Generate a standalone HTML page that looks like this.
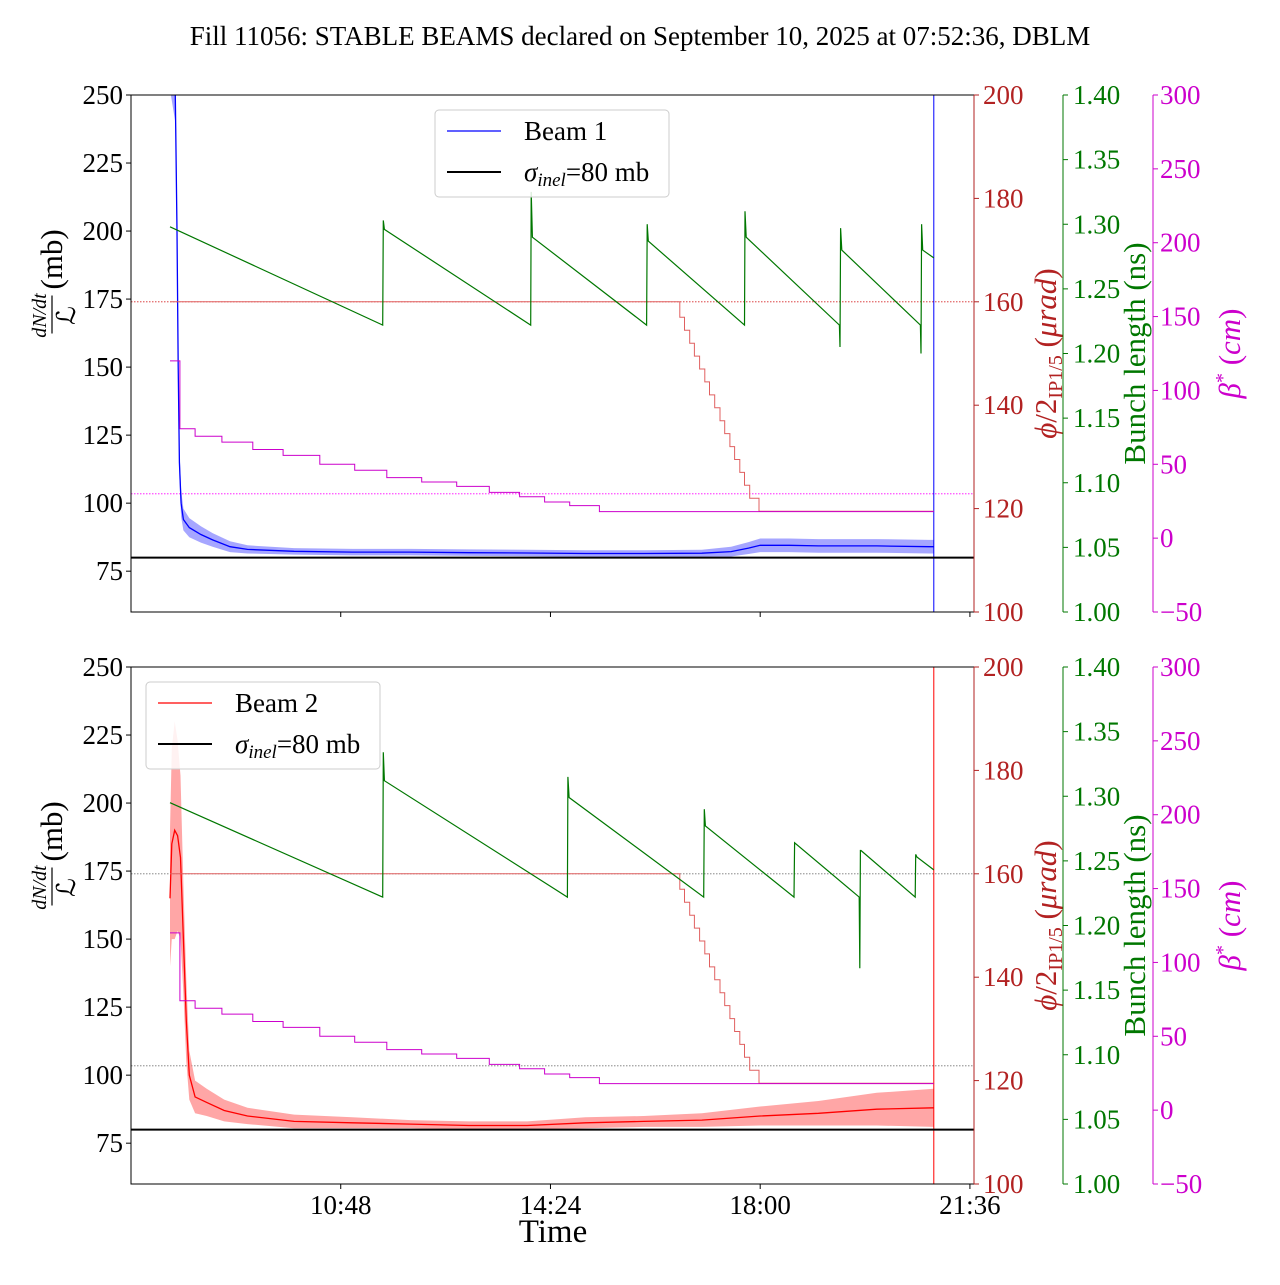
<!DOCTYPE html>
<html><head><meta charset="utf-8"><style>
body{margin:0;background:#fff}
svg{font-family:"Liberation Serif",serif}
</style></head><body>
<svg id="c" width="1280" height="1280" xmlns="http://www.w3.org/2000/svg">
<text x="640" y="45" text-anchor="middle" font-size="27">Fill 11056: STABLE BEAMS declared on September 10, 2025 at 07:52:36, DBLM</text>
</svg>
<script>
// ---- data (time in decimal hours) ----
const xTicks=[10.8,14.4,18.0,21.6];
const xTickLabels=["10:48","14:24","18:00","21:36"];
const leftTicks=[75,100,125,150,175,200,225,250];
const redTicks=[100,120,140,160,180,200];
const greenTicks=[1.00,1.05,1.10,1.15,1.20,1.25,1.30,1.35,1.40];
const magTicks=[-50,0,50,100,150,200,250,300];

const b1Time=[7.87,7.96,7.99,8.01,8.03,8.06,8.10,8.20,8.40,8.60,8.90,9.20,10,11,12,13,14,15,16,17,17.5,17.8,18.0,18.5,19,20,20.9,20.98];
const b1Val=[262,250,200,150,115,100,94,91,88.5,86.5,84,83,82.3,82,82,81.8,81.7,81.5,81.5,81.6,82.2,83.5,84.5,84.5,84.3,84.3,84,84];
const b1Band=[10,10,10,8,6,5,4,3.5,3,2.5,2,1.5,1.2,1.2,1.2,1.2,1.2,1.2,1.2,1.3,1.8,2.2,2.5,2.5,2.5,2.5,2.5,2.5];

const b2Time=[7.87,7.90,7.95,8.00,8.05,8.10,8.15,8.20,8.30,8.50,8.80,9.20,10,11,12,13,14,15,16,17,18,19,20,20.98];
const b2Val=[165,185,190,188,180,150,120,100,92,90,87,85,83,82.5,82,81.5,81.5,82.5,83,83.5,85,86,87.5,88];
const b2Band=[25,35,40,35,30,20,15,9,6,5,4,3,2.5,2,1.5,1.5,1.5,2,2,2.5,3.5,4.5,6,7];

const bl1Time=[7.87,11.52,11.53,11.55,14.06,14.07,14.09,16.05,16.06,16.08,17.73,17.74,17.76,19.36,19.37,19.38,19.40,20.75,20.76,20.77,20.79,20.98];
const bl1Val=[1.298,1.222,1.303,1.296,1.222,1.325,1.29,1.222,1.30,1.287,1.222,1.31,1.29,1.222,1.205,1.297,1.28,1.222,1.20,1.30,1.28,1.274];
const bl2Time=[7.87,11.52,11.53,11.55,14.69,14.70,14.72,17.03,17.04,17.06,18.58,18.59,19.70,19.71,19.72,19.73,20.66,20.67,20.69,20.98];
const bl2Val=[1.295,1.222,1.334,1.312,1.222,1.315,1.299,1.222,1.29,1.277,1.222,1.264,1.222,1.167,1.258,1.258,1.222,1.255,1.253,1.243];

const xingTime=[7.87,16.53,16.62,16.70,16.79,16.87,16.96,17.05,17.13,17.22,17.31,17.39,17.48,17.56,17.65,17.73,17.82,17.98,20.98];
const xingVal=[160,160,157,154.5,152,149.5,147,144.5,142,139.5,137,134.5,132,129.5,127,124.5,122,119.5,119.5];

const betaTime=[7.87,8.04,8.30,8.76,9.29,9.81,10.44,11.04,11.59,12.19,12.79,13.35,13.87,14.30,14.73,15.24,20.98];
const betaVal=[120,74,69,65,60,56,50,46,41,38,35,31,28,24.5,22,18,18];

const xStart=7.2,xEnd=21.67;
const sigmaInel=80, xingRef=160, betaRef=30;

const NS="http://www.w3.org/2000/svg";
const svg=document.getElementById('c');
const X0=131,X1=974,H=517;
const xs=t=>X0+(t-xStart)/(xEnd-xStart)*(X1-X0);
function mk(tag,at,parent){const e=document.createElementNS(NS,tag);for(const k in at)e.setAttribute(k,at[k]);(parent||svg).appendChild(e);return e;}
function txt(x,y,s,size,anchor,fill,parent){const e=mk('text',{x:x,y:y,'font-size':size,'text-anchor':anchor||'start',fill:fill||'#000'},parent);e.textContent=s;return e;}
function pathOf(ts,vs,fy,step){let d='';for(let i=0;i<ts.length;i++){const X=xs(ts[i]).toFixed(1),Y=fy(vs[i]).toFixed(1);if(i==0)d+='M'+X+','+Y;else if(step){d+='H'+X+'V'+Y;}else d+='L'+X+','+Y;}return d;}

function panel(top,beam){
  const g=mk('g',{});
  
  
  const yL=v=>top+(250-v)/190*H, yR=v=>top+(200-v)/100*H, yG=v=>top+(1.4-v)/0.4*H, yM=v=>top+(300-v)/350*H;
  const clip='clip'+beam;
  const cp=mk('clipPath',{id:clip},g);mk('rect',{x:X0,y:top,width:X1-X0,height:H},cp);
  const pg=mk('g',{'clip-path':'url(#'+clip+')'},g);
  const col=beam==1?'#0000ff':'#ff0000', band=beam==1?'#8080ff':'#ff8080';
  const T=beam==1?b1Time:b2Time,V=beam==1?b1Val:b2Val,B=beam==1?b1Band:b2Band;
  const r1=mk('line',{x1:X0,x2:X1,y1:yR(xingRef),y2:yR(xingRef),stroke:beam==1?'#d62728':'#777','stroke-width':0.8,'stroke-dasharray':'1.5,1.5'},pg);
  
  
  const r2=mk('line',{x1:X0,x2:X1,y1:yM(betaRef),y2:yM(betaRef),stroke:beam==1?'#ff00ff':'#777','stroke-width':0.8,'stroke-dasharray':'1.5,1.5'},pg);
  
  
  let d='';for(let i=0;i<T.length;i++)d+=(i?'L':'M')+xs(T[i]).toFixed(1)+','+yL(V[i]+B[i]).toFixed(1);
  for(let i=T.length-1;i>=0;i--)d+='L'+xs(T[i]).toFixed(1)+','+yL(V[i]-B[i]).toFixed(1);
  const bd=mk('path',{d:d+'Z',fill:band,opacity:0.7},pg);
  
  
  const ln=mk('path',{d:pathOf(T,V,yL),fill:'none',stroke:col,'stroke-width':1.3},pg);
  
  
  const vl=mk('line',{x1:xs(T[T.length-1]),x2:xs(T[T.length-1]),y1:top,y2:top+H,stroke:col,'stroke-width':1},pg);
  
  
  const xl=mk('path',{d:pathOf(xingTime,xingVal,yR,true),fill:'none',stroke:'#e06060','stroke-width':1},pg);
  
  
  const ml=mk('path',{d:pathOf(betaTime,betaVal,yM,true),fill:'none',stroke:'#cc00cc','stroke-width':1},pg);
  
  
  const gl=mk('path',{d:pathOf(beam==1?bl1Time:bl2Time,beam==1?bl1Val:bl2Val,yG),fill:'none',stroke:'#007700','stroke-width':1.2},pg);
  
  
  const sl=mk('line',{x1:X0,x2:X1,y1:yL(sigmaInel),y2:yL(sigmaInel),stroke:'#000','stroke-width':2},pg);
  
  
  mk('rect',{x:X0,y:top,width:X1-X0,height:H,fill:'none',stroke:'#000','stroke-width':1},g);
  leftTicks.forEach(v=>{const y=yL(v);mk('line',{x1:X0-5,x2:X0,y1:y,y2:y,stroke:'#000'},g);txt(X0-8,y+9,String(v),27,'end','#000',g);});
  xTicks.forEach((t,i)=>{const x=xs(t);mk('line',{x1:x,x2:x,y1:top+H,y2:top+H+5,stroke:'#000'},g);if(beam==2)txt(x,top+H+30,xTickLabels[i],27,'middle','#000',g);});
  mk('line',{x1:X1,x2:X1,y1:top,y2:top+H,stroke:'#b22222'},g);
  redTicks.forEach(v=>{const y=yR(v);mk('line',{x1:X1,x2:X1+5,y1:y,y2:y,stroke:'#b22222'},g);txt(X1+9,y+9,String(v),27,'start','#b22222',g);});
  mk('line',{x1:1063,x2:1063,y1:top,y2:top+H,stroke:'#007700'},g);
  greenTicks.forEach(v=>{const y=yG(v);mk('line',{x1:1063,x2:1068,y1:y,y2:y,stroke:'#007700'},g);txt(1073,y+9,v.toFixed(2),27,'start','#007700',g);});
  mk('line',{x1:1153,x2:1153,y1:top,y2:top+H,stroke:'#cc00cc'},g);
  magTicks.forEach(v=>{const y=yM(v);mk('line',{x1:1153,x2:1158,y1:y,y2:y,stroke:'#cc00cc'},g);txt(1160,y+9,(v<0?'\u2212'+(-v):String(v)),27,'start','#cc00cc',g);});
  const cy=top+H/2-30;
  const ll=mk('g',{transform:'translate(60,'+(cy+10)+') rotate(-90)'},g);
  
  
  txt(18,-14,'dN/dt',20,'middle','#000',ll).setAttribute('font-style','italic');
  mk('line',{x1:0,x2:38,y1:-8,y2:-8,stroke:'#000','stroke-width':1.2},ll);
  txt(18,15,'\u2112',26,'middle','#000',ll);
  txt(44,2,'(mb)',31,'start','#000',ll);
  const rl=txt(0,0,'',31,'middle','#b22222',g);
  rl.setAttribute('transform','translate(1056,'+(cy+30)+') rotate(-90)');
  rl.innerHTML='<tspan font-style="italic">\u03d5</tspan>/2<tspan font-size="20" dy="6">IP1/5</tspan><tspan dy="-6"> (</tspan><tspan font-style="italic">\u03bcrad</tspan>)';
  
  
  const gt=txt(0,0,'Bunch length (ns)',31,'middle','#007700',g);
  gt.setAttribute('transform','translate(1145,'+(cy+30)+') rotate(-90)');
  
  
  const mt=txt(0,0,'',31,'middle','#cc00cc',g);
  mt.setAttribute('transform','translate(1240,'+(cy+30)+') rotate(-90)');
  mt.innerHTML='<tspan font-style="italic">\u03b2</tspan><tspan font-size="20" dy="-11">*</tspan><tspan dy="11"> (</tspan><tspan font-style="italic">cm</tspan>)';
  
  
  const lx=beam==1?435:146, ly=top+15;
  const lg=mk('g',{},g);
  
  
  mk('rect',{x:lx,y:ly,width:234,height:87,rx:4,fill:'#fff',stroke:'#ccc','fill-opacity':0.85},lg);
  mk('line',{x1:lx+12,x2:lx+66,y1:ly+21,y2:ly+21,stroke:col,'stroke-width':1.2},lg);
  txt(lx+89,ly+30,'Beam '+beam,27,'start','#000',lg);
  mk('line',{x1:lx+12,x2:lx+66,y1:ly+62,y2:ly+62,stroke:'#000','stroke-width':2},lg);
  const st=txt(lx+89,ly+71,'',27,'start','#000',lg);
  st.innerHTML='<tspan font-style="italic">\u03c3</tspan><tspan font-style="italic" font-size="19" dy="5">inel</tspan><tspan dy="-5">=80 mb</tspan>';
}
panel(95,1);
panel(667,2);
const xt=txt(553,1242,'Time',33,'middle');


</script>
</body></html>
